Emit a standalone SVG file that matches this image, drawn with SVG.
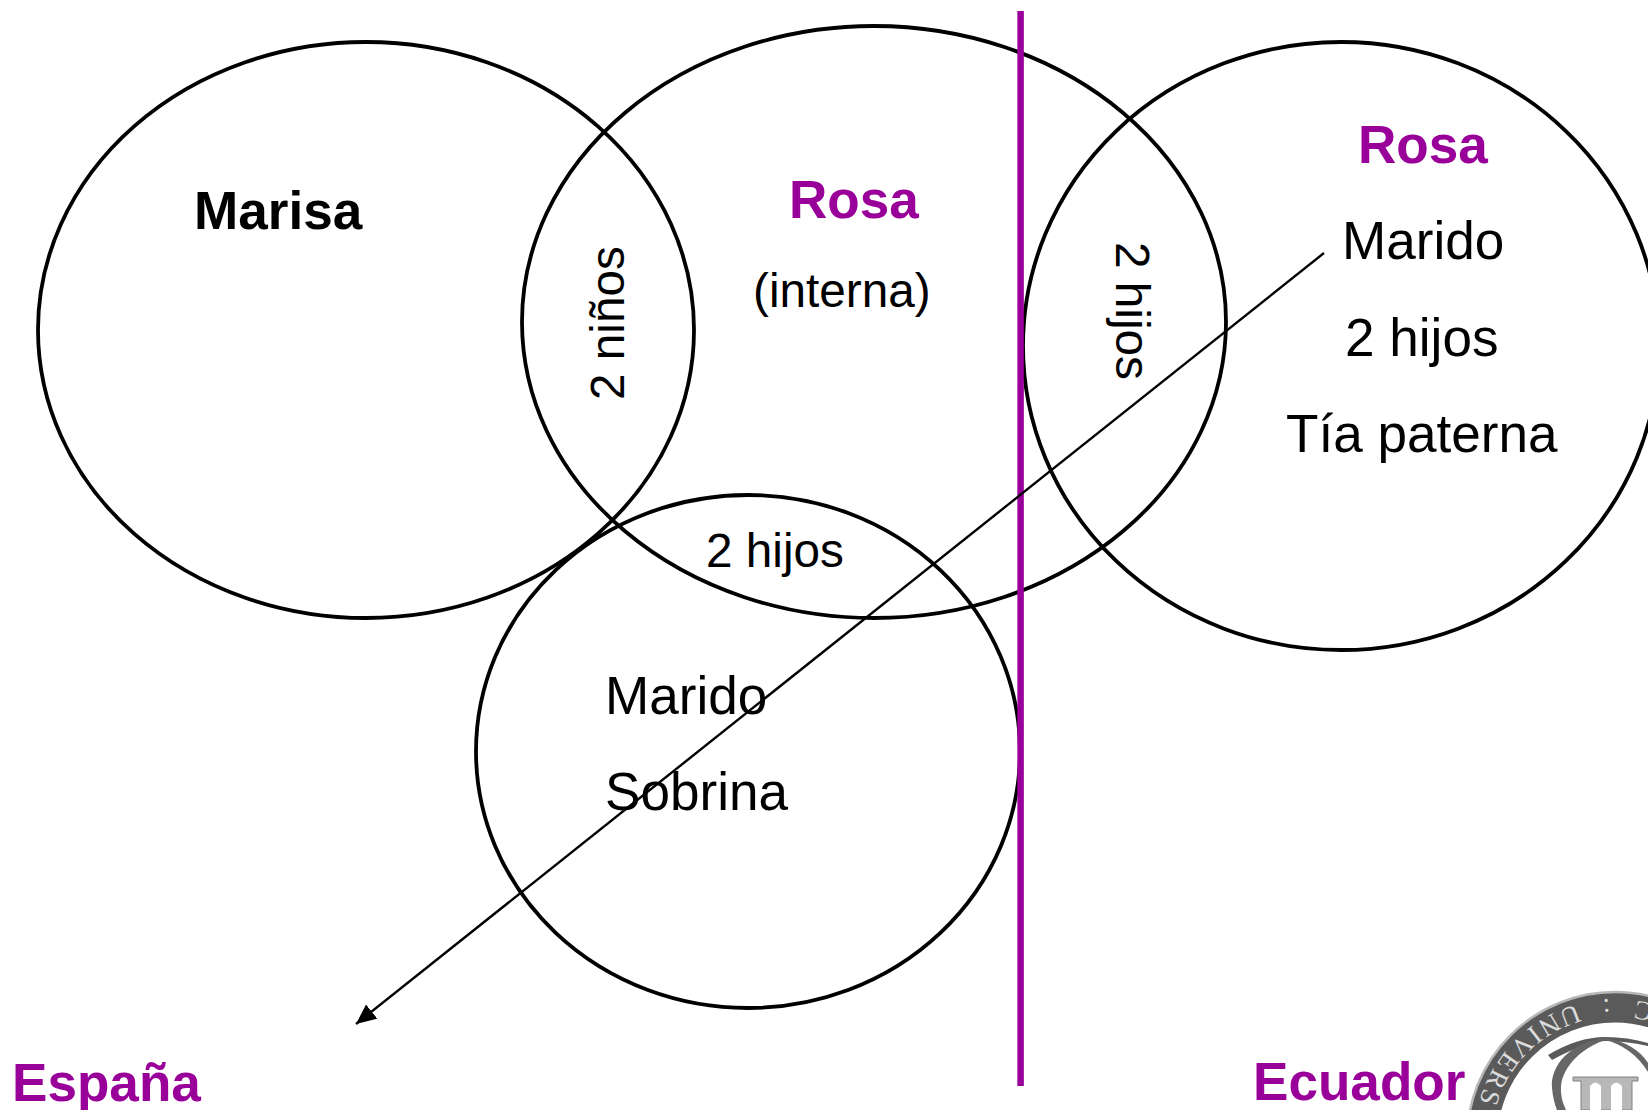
<svg xmlns="http://www.w3.org/2000/svg" width="1648" height="1110" viewBox="0 0 1648 1110">
<defs>
<marker id="ah" markerUnits="userSpaceOnUse" markerWidth="24" markerHeight="20" refX="20" refY="9" orient="auto"><path d="M0 0L20 9L0 18Z" fill="#000"/></marker>
<path id="ringText" d="M1656 1005A141 141 0 0 0 1474 1140"/>
</defs>
<style>
.c{fill:none;stroke:#000;stroke-width:3.8}
text{font-family:"Liberation Sans",Arial,sans-serif;font-size:53.1px;fill:#000}
.s{font-size:47.7px}
.b{font-weight:700}.p{fill:#990099}
text.r{font-family:"Liberation Serif","Times New Roman",serif;font-size:27px;fill:#dcdcdc}
.u{letter-spacing:4.4px}
</style>
<rect width="1648" height="1110" fill="#fff"/>
<g id="logo">
<circle cx="1615" cy="1140" r="133" fill="none" stroke="#5a5a5a" stroke-width="31"/>
<circle cx="1615" cy="1140" r="148" fill="none" stroke="#b8b8b8" stroke-width="2.5"/>
<text class="r"><textPath href="#ringText" startOffset="2">C</textPath></text>
<text class="r"><textPath href="#ringText" startOffset="47">:</textPath></text>
<text class="r u"><textPath href="#ringText" startOffset="81">UNIVERS</textPath></text>
<path d="M1548 1055Q1578 1037 1605 1037Q1628 1037 1648 1043L1648 1046Q1625 1041 1605 1041Q1585 1042 1552 1060Z" fill="#5a5a5a"/>
<path d="M1605 1038C1570 1042 1550 1066 1552 1088Q1553 1100 1557 1110L1566 1110Q1560 1098 1561 1086C1563 1066 1582 1048 1605 1040C1622 1044 1638 1055 1648 1072L1648 1063C1640 1050 1625 1041 1605 1038Z" fill="#666"/>
<path d="M1573 1077H1638V1081H1632V1110H1581V1081H1573Z" fill="#b8b8b8" stroke="#808080" stroke-width="1"/>
<path d="M1590 1110V1086Q1595 1079 1601 1086V1110ZM1611 1110V1086Q1616 1079 1622 1086V1110Z" fill="#fff"/>
</g>
<g id="marisa"><ellipse class="c" cx="366" cy="330" rx="328" ry="288"/><text class="b" x="194" y="229">Marisa</text></g>
<g id="rosa-interna"><ellipse class="c" cx="874" cy="322" rx="352" ry="296"/><text class="b p" x="789" y="218">Rosa</text><text class="s" x="753" y="307">(interna)</text></g>
<g id="rosa-ecuador"><ellipse class="c" cx="1341" cy="346" rx="318" ry="304"/><text class="b p" x="1358" y="163">Rosa</text><text x="1342" y="259">Marido</text><text x="1345" y="356">2 hijos</text><text x="1286" y="452">Tía paterna</text></g>
<g id="familia"><ellipse class="c" cx="748" cy="751.5" rx="272" ry="256.5"/><text x="605" y="714">Marido</text><text x="605" y="810">Sobrina</text></g>
<g id="connectors">
<line x1="1020.6" y1="11" x2="1020.6" y2="1086" stroke="#990099" stroke-width="6.5"/>
<line x1="1324" y1="253" x2="356" y2="1024" stroke="#000" stroke-width="2.4" marker-end="url(#ah)"/>
</g>
<g id="labels">
<text class="s" transform="translate(624,400) rotate(-90)">2 niños</text>
<text class="s" transform="translate(1116,242) rotate(90)">2 hijos</text>
<text class="s" x="706" y="567">2 hijos</text>
<text class="b p" x="12" y="1101">España</text>
<text class="b p" x="1253" y="1100">Ecuador</text>
</g>
</svg>
